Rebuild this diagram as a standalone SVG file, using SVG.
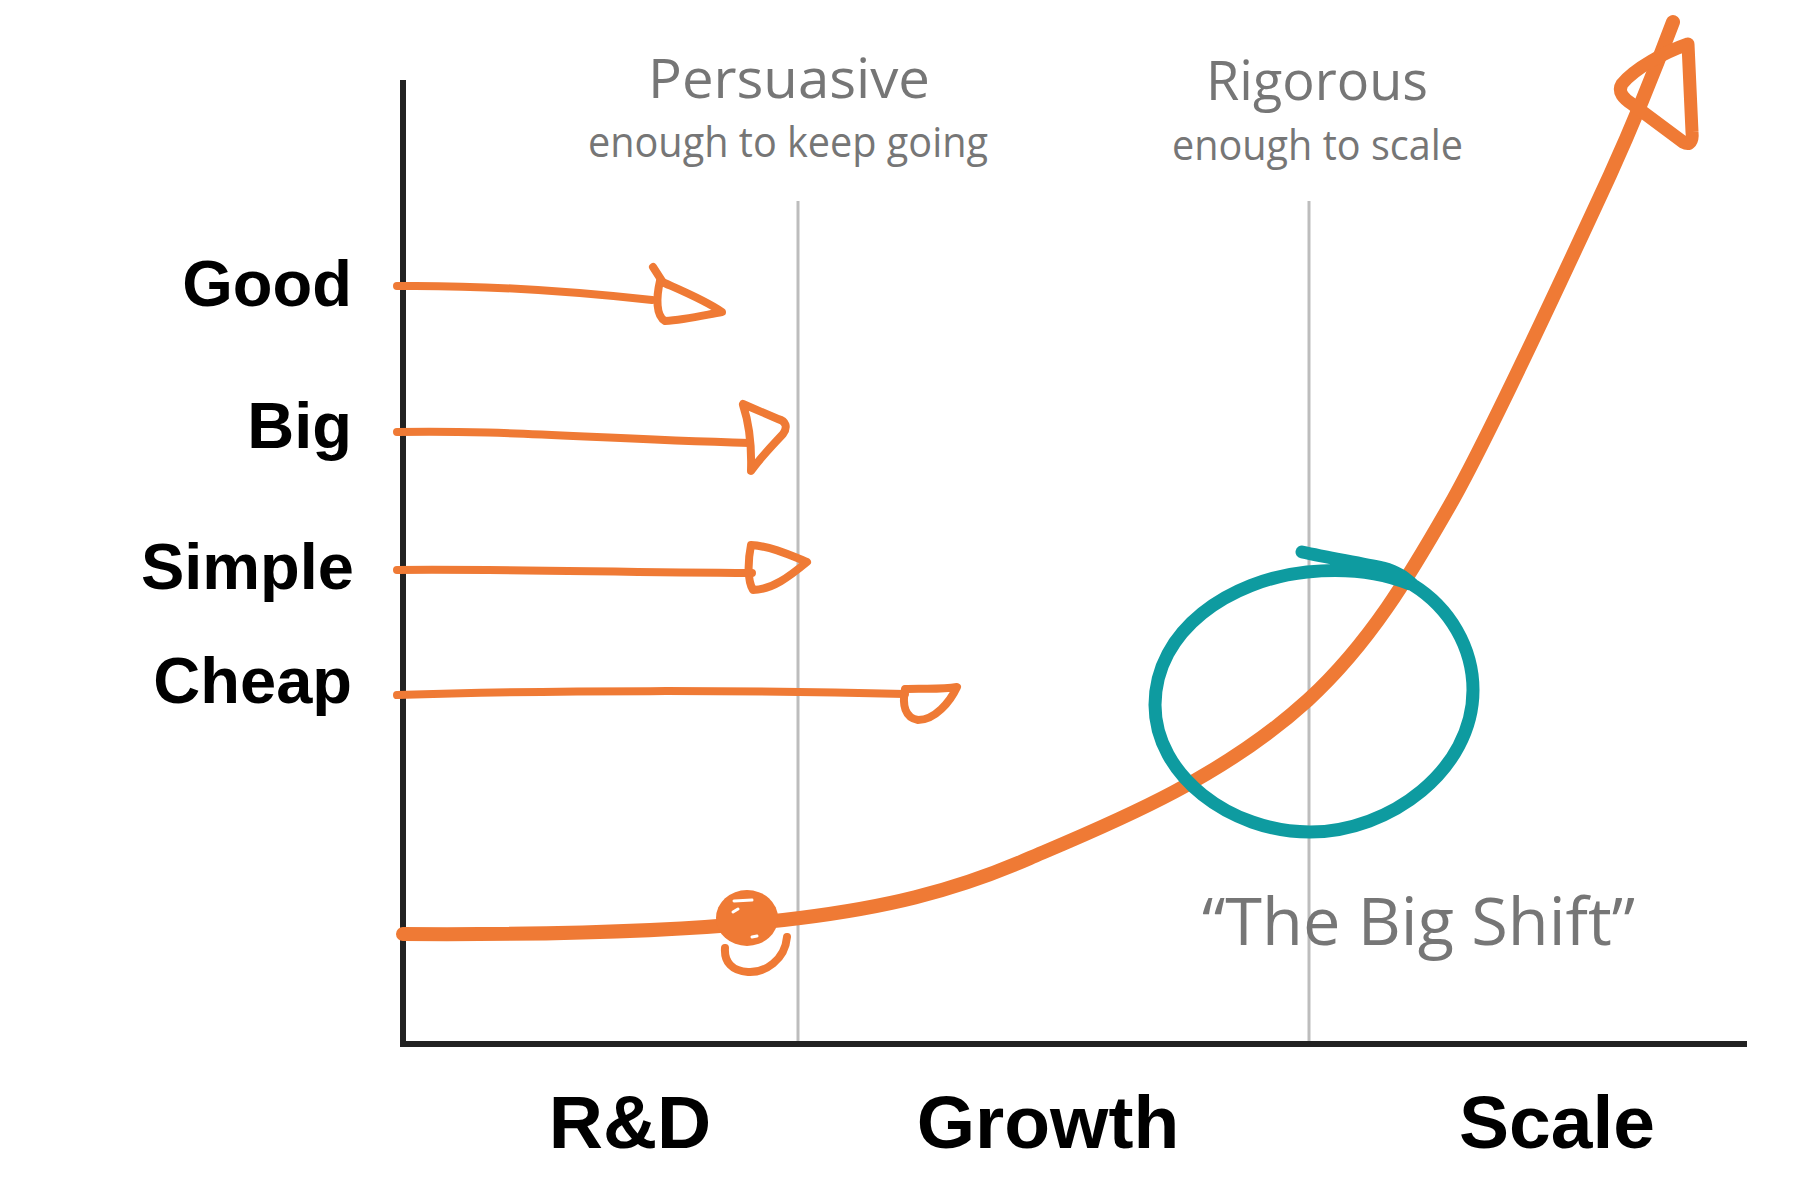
<svg xmlns="http://www.w3.org/2000/svg" width="1800" height="1200" viewBox="0 0 1800 1200">
<style>
.lbl{font-family:"Liberation Sans",Arial,sans-serif;font-weight:bold;fill:#000}
.hand{font-family:"Open Sans","Noto Sans",sans-serif;fill:#767676}
.or{fill:none;stroke:#EF7A35;stroke-linecap:round;stroke-linejoin:round}
.thin{stroke-width:8}
.teal{fill:none;stroke:#0E9BA0;stroke-width:13;stroke-linecap:round;stroke-linejoin:round}
.grid{stroke:#BDBDBD;stroke-width:3}
.axis{stroke:#222;stroke-width:6;fill:none}
</style>
<rect width="1800" height="1200" fill="#fff"/>
<g id="gridlines">
<line class="grid" x1="798" y1="201" x2="798" y2="1044"/>
<line class="grid" x1="1309" y1="201" x2="1309" y2="1044"/>
</g>
<g id="axes">
<path class="axis" d="M403 80 L403 1044 L1747 1044"/>
</g>
<g id="y-labels">
<text class="lbl" x="352" y="306" font-size="65" text-anchor="end">Good</text>
<text class="lbl" x="352" y="448" font-size="65" text-anchor="end">Big</text>
<text class="lbl" x="354" y="589" font-size="65" text-anchor="end">Simple</text>
<text class="lbl" x="352" y="703" font-size="65" text-anchor="end">Cheap</text>
</g>
<g id="x-labels">
<text class="lbl" x="630" y="1148" font-size="75" text-anchor="middle">R&amp;D</text>
<text class="lbl" x="1048" y="1148" font-size="75" text-anchor="middle">Growth</text>
<text class="lbl" x="1557" y="1148" font-size="75" text-anchor="middle">Scale</text>
</g>
<g id="persuasive">
<text class="hand" x="648" y="98" font-size="54" textLength="282" lengthAdjust="spacingAndGlyphs">Persuasive</text>
<text class="hand" x="588" y="157" font-size="42" textLength="400" lengthAdjust="spacingAndGlyphs">enough to keep going</text>
</g>
<g id="rigorous">
<text class="hand" x="1206" y="100" font-size="54" textLength="222" lengthAdjust="spacingAndGlyphs">Rigorous</text>
<text class="hand" x="1172" y="160" font-size="42" textLength="291" lengthAdjust="spacingAndGlyphs">enough to scale</text>
</g>
<g id="big-shift">
<text class="hand" x="1202" y="945" font-size="66" textLength="433" lengthAdjust="spacingAndGlyphs">“The Big Shift”</text>
</g>
<g id="connectors">
<g id="arrow-good">
<path class="or thin" d="M397 286 C480 285 560 290 652 300"/>
<path class="or thin" d="M653 267 L662 281"/>
<path class="or thin" d="M660 281 C656 298 656 316 665 321 C685 320 705 315 722 312 C705 300 680 290 660 281 Z"/>
</g>
<g id="arrow-big">
<path class="or thin" d="M397 432 C500 430 580 438 750 443"/>
<path class="or thin" d="M743 405 C748 420 752 440 751 471 C760 458 772 446 783 434 C788 427 786 421 778 419 L743 404"/>
</g>
<g id="arrow-simple">
<path class="or thin" d="M397 570 C500 569 600 572 752 573"/>
<path class="or thin" d="M751 545 C748 560 747 580 753 590 C772 590 790 576 807 562 C790 555 770 546 751 545 Z"/>
</g>
<g id="arrow-cheap">
<path class="or thin" d="M397 695 C550 690 750 690 905 694"/>
<path class="or thin" d="M905 689 C902 705 905 718 918 720 C935 720 950 702 957 687 C940 690 920 688 905 689 Z"/>
</g>
<g id="growth-curve">
<path class="or" stroke-width="14" d="M403 934 C560 935 700 931 800 918 C880 908 950 893 1030 858 C1110 824 1220 780 1308 700 C1370 643 1410 575 1450 505 C1490 435 1580 240 1610 175 C1635 120 1655 70 1673 22"/>
<path class="or" stroke-width="13" d="M1688 44 C1665 52 1635 68 1622 84 C1617 92 1624 99 1632 104 L1683 142 C1690 146 1693 141 1692 132 L1688 44"/>
<ellipse cx="747" cy="918" rx="31" ry="28" fill="#EF7A35"/>
<path class="or thin" d="M787 937 C785 960 765 973 748 972 C732 971 724 962 725 948"/>
<path d="M734 901 L752 900 M733 912 L738 909 M752 937 L757 936" stroke="#fff" stroke-width="3" stroke-linecap="round" fill="none"/>
</g>
<g id="shift-circle">
<path class="teal" d="M1302 552 C1330 558 1360 563 1383 568 C1398 572 1405 578 1413 585 C1450 608 1473 648 1473 690 C1473 770 1390 832 1310 832 C1230 832 1155 775 1155 705 C1155 630 1230 580 1307 572 C1345 568 1380 572 1410 584"/>
</g>
</g>
</svg>
